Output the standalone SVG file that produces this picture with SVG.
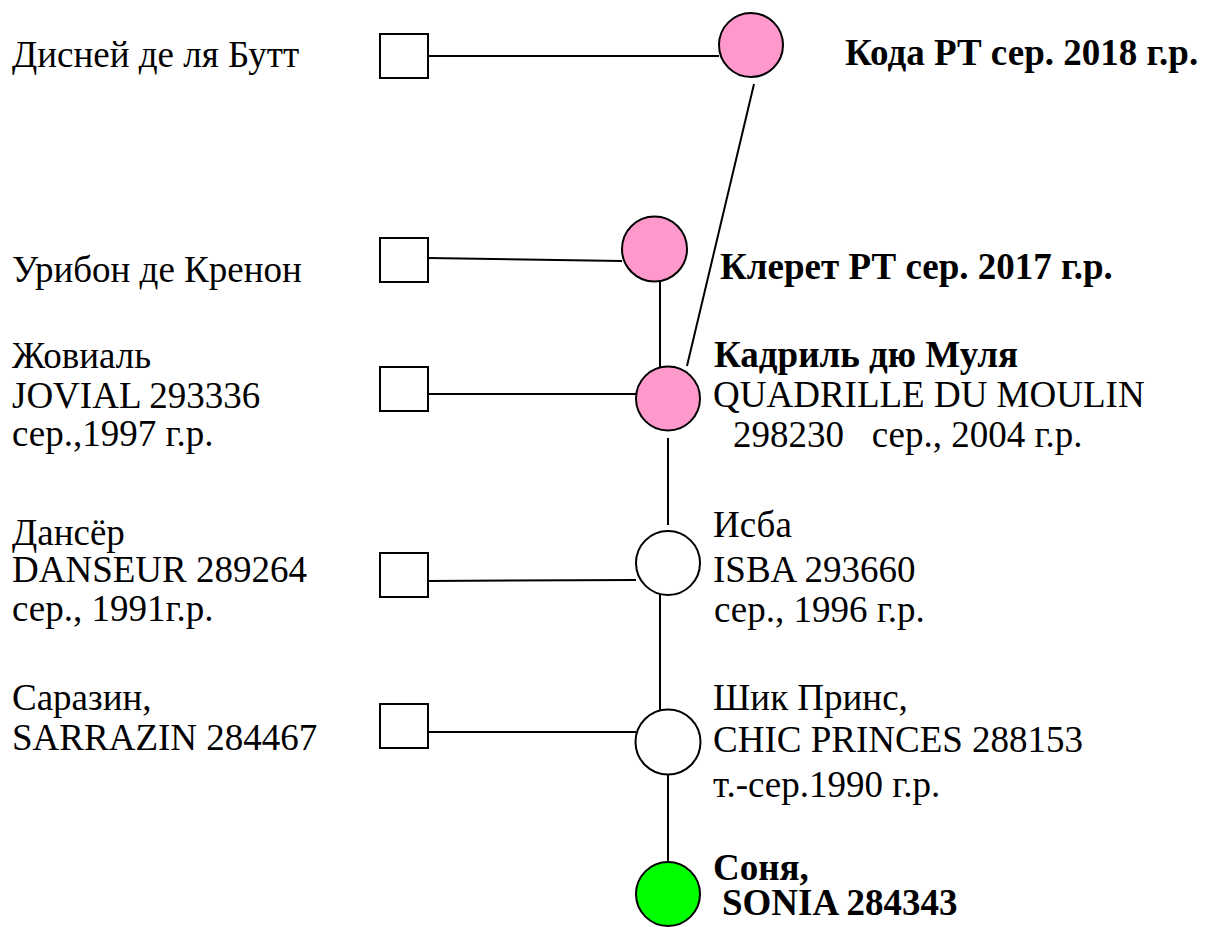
<svg xmlns="http://www.w3.org/2000/svg" width="1211" height="927" viewBox="0 0 1211 927">
<style>
text{font-family:'Liberation Serif','Times New Roman',serif;font-size:37px;fill:#000}
.b{font-weight:bold}
.sq{fill:#fff;stroke:#000;stroke-width:2}
.c{stroke:#000;stroke-width:2}
.pink{fill:#FF99CC}
.white{fill:#fff}
.green{fill:#00FF00}
.ln{stroke:#000;stroke-width:2;fill:none}
</style>
<rect width="1211" height="927" fill="#fff"/>
<g id="connectors">
<line class="ln" x1="428" y1="56" x2="719" y2="56"/>
<line class="ln" x1="754" y1="84" x2="687" y2="366"/>
<line class="ln" x1="428" y1="258" x2="622" y2="261"/>
<line class="ln" x1="660" y1="265" x2="660" y2="373"/>
<line class="ln" x1="428" y1="394" x2="636" y2="394"/>
<line class="ln" x1="668" y1="438" x2="668" y2="525"/>
<line class="ln" x1="428" y1="581" x2="636" y2="580"/>
<line class="ln" x1="660" y1="582" x2="660" y2="725"/>
<line class="ln" x1="428" y1="732" x2="636" y2="732"/>
<line class="ln" x1="668" y1="775" x2="668" y2="862"/>
</g>
<g id="n_disney"><rect class="sq" x="380" y="34" width="48" height="44"/><text x="12" y="67">Дисней де ля Бутт</text></g>
<g id="n_koda"><circle class="c pink" cx="751" cy="45" r="32"/><text class="b" x="845" y="65">Кода РТ сер. 2018 г.р.</text></g>
<g id="n_uribon"><rect class="sq" x="380" y="238" width="48" height="44"/><text x="12" y="282">Урибон де Кренон</text></g>
<g id="n_kleret"><circle class="c pink" cx="654.5" cy="249" r="32.5"/><text class="b" x="720" y="279">Клерет РТ сер. 2017 г.р.</text></g>
<g id="n_jovial"><rect class="sq" x="380" y="367" width="48" height="44"/><text x="12" y="368">Жовиаль</text><text x="12" y="408">JOVIAL 293336</text><text x="12" y="446">сер.,1997 г.р.</text></g>
<g id="n_quadrille"><circle class="c pink" cx="668" cy="398.5" r="32"/><text class="b" x="714" y="367">Кадриль дю Муля</text><text x="713" y="407">QUADRILLE DU MOULIN</text><text x="733" y="447" xml:space="preserve">298230   сер., 2004 г.р.</text></g>
<g id="n_danseur"><rect class="sq" x="380" y="553" width="48" height="44"/><text x="12" y="545">Дансёр</text><text x="12" y="582">DANSEUR 289264</text><text x="12" y="621">сер., 1991г.р.</text></g>
<g id="n_isba"><circle class="c white" cx="668" cy="563" r="32"/><text x="713" y="537">Исба</text><text x="713" y="582">ISBA 293660</text><text x="714" y="622">сер., 1996 г.р.</text></g>
<g id="n_sarrazin"><rect class="sq" x="380" y="704" width="48" height="44"/><text x="12" y="710">Саразин,</text><text x="12" y="750">SARRAZIN 284467</text></g>
<g id="n_chic"><circle class="c white" cx="668" cy="742" r="32.5"/><text x="713" y="710">Шик Принс,</text><text x="713" y="752">CHIC PRINCES 288153</text><text x="713" y="797">т.-сер.1990 г.р.</text></g>
<g id="n_sonia"><circle class="c green" cx="668" cy="894" r="32"/><text class="b" x="713" y="880">Соня,</text><text class="b" x="722" y="915">SONIA 284343</text></g>
</svg>
